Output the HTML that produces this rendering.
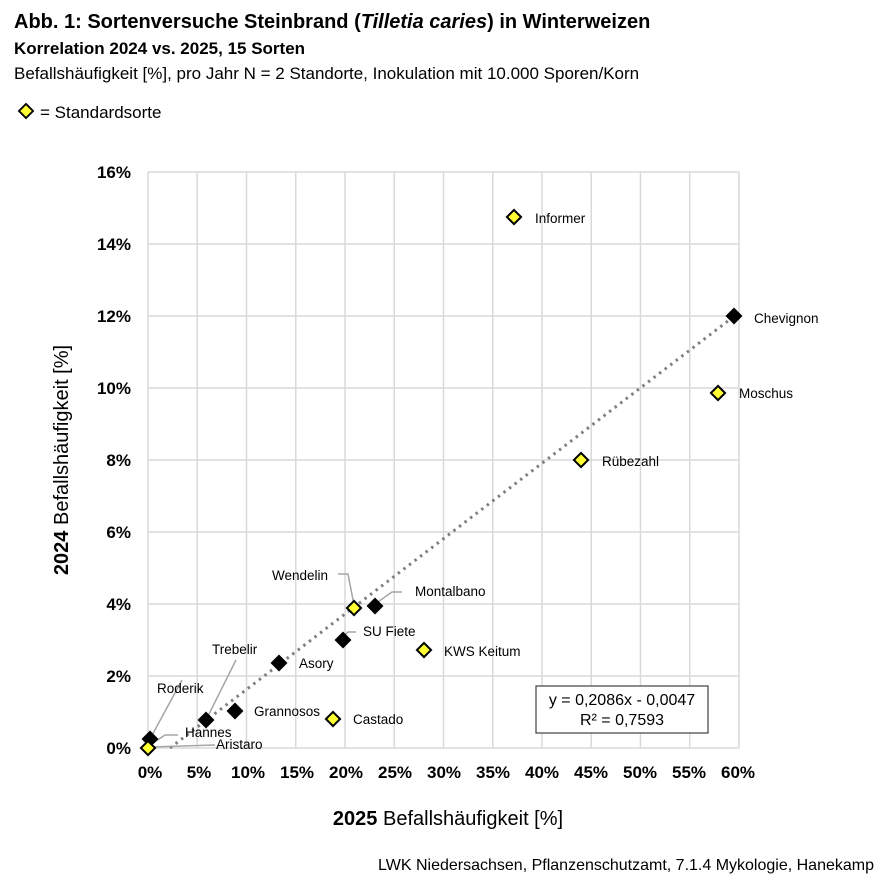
<!DOCTYPE html>
<html><head><meta charset="utf-8"><style>
body{margin:0;background:#fff;font-family:"Liberation Sans",Arial,sans-serif;}
</style></head><body>
<svg width="895" height="889" xmlns="http://www.w3.org/2000/svg" font-family="Liberation Sans, Arial, sans-serif">
<rect width="895" height="889" fill="#fff"/>
<text x="14" y="28" font-size="20" font-weight="bold">Abb. 1: Sortenversuche Steinbrand (<tspan font-style="italic">Tilletia caries</tspan>) in Winterweizen</text>
<text x="14" y="54" font-size="17" font-weight="bold">Korrelation 2024 vs. 2025, 15 Sorten</text>
<text x="14" y="79" font-size="17">Befallshäufigkeit [%], pro Jahr N = 2 Standorte, Inokulation mit 10.000 Sporen/Korn</text>
<rect x="21" y="106" width="10" height="10" transform="rotate(45 26 111)" fill="#ffff33" stroke="#000" stroke-width="1.8"/>
<text x="40" y="118" font-size="17">= Standardsorte</text>
<g stroke="#d9d9d9" stroke-width="1.5">
<line x1="148" y1="172" x2="739" y2="172"/><line x1="148" y1="244" x2="739" y2="244"/><line x1="148" y1="316" x2="739" y2="316"/><line x1="148" y1="388" x2="739" y2="388"/><line x1="148" y1="460" x2="739" y2="460"/><line x1="148" y1="532" x2="739" y2="532"/><line x1="148" y1="604" x2="739" y2="604"/><line x1="148" y1="676" x2="739" y2="676"/><line x1="148" y1="748" x2="739" y2="748"/>
<line x1="148" y1="172" x2="148" y2="748"/><line x1="197.25" y1="172" x2="197.25" y2="748"/><line x1="246.5" y1="172" x2="246.5" y2="748"/><line x1="295.75" y1="172" x2="295.75" y2="748"/><line x1="345" y1="172" x2="345" y2="748"/><line x1="394.25" y1="172" x2="394.25" y2="748"/><line x1="443.5" y1="172" x2="443.5" y2="748"/><line x1="492.75" y1="172" x2="492.75" y2="748"/><line x1="542" y1="172" x2="542" y2="748"/><line x1="591.25" y1="172" x2="591.25" y2="748"/><line x1="640.5" y1="172" x2="640.5" y2="748"/><line x1="689.75" y1="172" x2="689.75" y2="748"/><line x1="739" y1="172" x2="739" y2="748"/>
</g>
<g font-size="17" font-weight="bold" text-anchor="end">
<text x="131" y="178">16%</text><text x="131" y="250">14%</text><text x="131" y="322">12%</text><text x="131" y="394">10%</text><text x="131" y="466">8%</text><text x="131" y="538">6%</text><text x="131" y="610">4%</text><text x="131" y="682">2%</text><text x="131" y="754">0%</text>
</g>
<g font-size="17" font-weight="bold" text-anchor="middle">
<text x="150" y="778">0%</text><text x="199" y="778">5%</text><text x="248" y="778">10%</text><text x="297" y="778">15%</text><text x="346" y="778">20%</text><text x="395" y="778">25%</text><text x="444" y="778">30%</text><text x="493" y="778">35%</text><text x="542" y="778">40%</text><text x="591" y="778">45%</text><text x="640" y="778">50%</text><text x="689" y="778">55%</text><text x="738" y="778">60%</text>
</g>
<text x="448" y="825" font-size="20" text-anchor="middle"><tspan font-weight="bold">2025</tspan> Befallshäufigkeit [%]</text>
<text transform="translate(68 460) rotate(-90)" font-size="20" text-anchor="middle"><tspan font-weight="bold">2024</tspan> Befallshäufigkeit [%]</text>
<line x1="170" y1="748" x2="737" y2="314" stroke="#7f7f7f" stroke-width="3" stroke-dasharray="2.5 4.5"/>
<g stroke="#a6a6a6" stroke-width="1.5" fill="none">
<polyline points="150,739 182,680"/><polyline points="206,720 236,660"/>
<polyline points="150,745 165,735 178,735"/><polyline points="150,747 215,745"/>
<polyline points="354,605 348,574 338,574"/><polyline points="375,604 392,592 402,592"/><polyline points="343,637 348,632 356,632"/>
</g>
<g stroke="#000" stroke-width="2">
<g fill="#000">
<rect x="729" y="311" width="10" height="10" transform="rotate(45 734 316)"/>
<rect x="370" y="601" width="10" height="10" transform="rotate(45 375 606)"/>
<rect x="338" y="635" width="10" height="10" transform="rotate(45 343 640)"/>
<rect x="274" y="658" width="10" height="10" transform="rotate(45 279 663)"/>
<rect x="230" y="706" width="10" height="10" transform="rotate(45 235 711)"/>
<rect x="201" y="715" width="10" height="10" transform="rotate(45 206 720)"/>
<rect x="145" y="734" width="10" height="10" transform="rotate(45 150 739)"/>
</g>
<g fill="#ffff33">
<rect x="509" y="212" width="10" height="10" transform="rotate(45 514 217)"/>
<rect x="713" y="388" width="10" height="10" transform="rotate(45 718 393)"/>
<rect x="576" y="455" width="10" height="10" transform="rotate(45 581 460)"/>
<rect x="349" y="603" width="10" height="10" transform="rotate(45 354 608)"/>
<rect x="419" y="645" width="10" height="10" transform="rotate(45 424 650)"/>
<rect x="328" y="714" width="10" height="10" transform="rotate(45 333 719)"/>
<rect x="143" y="743" width="10" height="10" transform="rotate(45 148 748)"/>
</g>
</g>
<g font-size="13.5">
<text x="535" y="223">Informer</text><text x="754" y="323">Chevignon</text><text x="739" y="398">Moschus</text><text x="602" y="466">Rübezahl</text>
<text x="272" y="580">Wendelin</text><text x="415" y="596">Montalbano</text><text x="363" y="636">SU Fiete</text><text x="444" y="656">KWS Keitum</text>
<text x="299" y="668">Asory</text><text x="254" y="716">Grannosos</text><text x="353" y="724">Castado</text>
<text x="212" y="654">Trebelir</text><text x="157" y="693">Roderik</text><text x="185" y="737">Hannes</text><text x="216" y="749">Aristaro</text>
</g>
<rect x="536" y="686" width="172" height="47" fill="#fff" stroke="#404040" stroke-width="1.2"/>
<text x="622" y="705" font-size="16" text-anchor="middle">y = 0,2086x - 0,0047</text>
<text x="622" y="725" font-size="16" text-anchor="middle">R² = 0,7593</text>
<text x="874" y="870" font-size="16" text-anchor="end">LWK Niedersachsen, Pflanzenschutzamt, 7.1.4 Mykologie, Hanekamp</text>
</svg>
</body></html>
